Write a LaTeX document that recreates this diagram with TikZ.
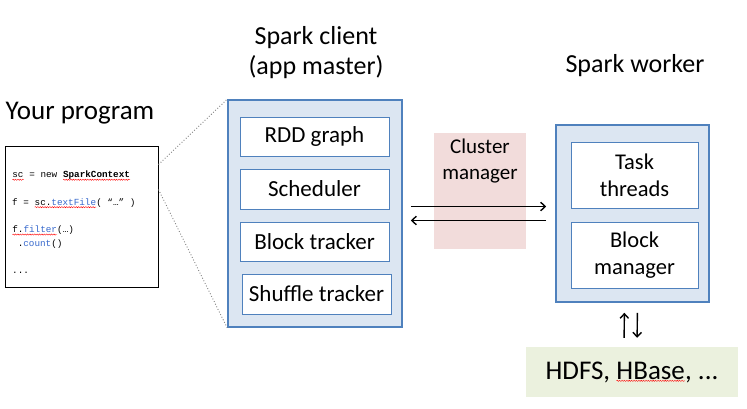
\documentclass[tikz,border=0pt]{standalone}
\usepackage{fontspec}
\setmainfont{Carlito}
\setmonofont{Liberation Mono}
\usepackage{xcolor}
\usetikzlibrary{arrows.meta, positioning, decorations.pathmorphing}
\definecolor{sparkblue}{RGB}{79,129,189}
\definecolor{sparklight}{RGB}{220,230,242}
\definecolor{clusterpink}{RGB}{242,220,219}
\definecolor{storegreen}{RGB}{235,241,222}
\definecolor{codeblue}{RGB}{55,105,205}
\newcommand{\squig}[1]{\tikz[baseline=(w.base)]{\node[inner sep=0pt, outer sep=0pt, draw=none, fill=none,
    minimum width=0pt, minimum height=0pt] (w) {#1};
  \draw[red, line width=0.4pt, decorate, decoration={snake, amplitude=0.6pt, segment length=2.4pt}]
    ([yshift=-1.8pt]w.base west) -- ([yshift=-1.8pt]w.base east);}}
\tikzset{
  outer/.style   = {draw=sparkblue, line width=1.6pt, fill=sparklight},
  part/.style    = {draw=sparkblue, fill=white, align=center, font=\fontsize{23}{26}\selectfont},
  title/.style   = {align=center, font=\fontsize{26}{30}\selectfont},
  codebox/.style = {draw=black, line width=1pt, fill=white},
  link/.style    = {->, >={Straight Barb[length=4.5pt, width=8.5pt]}, line width=1.4pt},
  zoomline/.style= {draw=gray, dotted, line width=0.9pt},
}

\begin{document}
\begin{tikzpicture}[x=1pt, y=-1pt]
\useasboundingbox (0,0) rectangle (747,408);

% your program
\node[title, font=\fontsize{27}{30}\selectfont] (prog) at (80,113) {Your program};
\node[codebox, minimum width=153pt, minimum height=141pt] (code) at (81.5,216.5) {};
\node[anchor=north west, align=left, inner sep=0pt,
      font=\ttfamily\fontsize{9.3}{13.7}\selectfont] (snippet) at (12,171) {%
\squig{sc} = new \textbf{\squig{SparkContext}}\\[13.7pt]
f = \squig{sc.\textcolor{codeblue}{textFile}}( “…” )\\[13.7pt]
\squig{f.\textcolor{codeblue}{filter}}(…)\\
\ .\textcolor{codeblue}{count}()\\[13.7pt]
...};

% spark client
\node[title] (clienttitle) at (316,53) {Spark client\\(app master)};
\node[outer, minimum width=174pt, minimum height=227pt] (client) at (315,213.5) {};
\node[part, minimum width=149pt, minimum height=39pt] (rdd) at (314.5,136.5) {RDD graph};
\node[part, minimum width=149pt, minimum height=40pt] (sched) at (314.5,189) {Scheduler};
\node[part, minimum width=149pt, minimum height=39pt] (blocktr) at (314.5,241.5) {Block tracker};
\node[part, minimum width=149pt, minimum height=40pt] (shuffle) at (316.5,294) {Shuffle tracker};

\draw[zoomline] ([yshift=-19pt]code.north east) -- (client.north west);
\draw[zoomline] ([yshift=-44pt]code.north east) -- (client.south west);

% cluster manager
\node[fill=clusterpink, minimum width=92pt, minimum height=116pt] (cm) at (480,191) {};
\node[title, font=\fontsize{21}{26}\selectfont] (cmlabel) at (480,161) {Cluster\\manager};

% spark worker
\node[title] (workertitle) at (635,66) {Spark worker};
\node[outer, minimum width=153pt, minimum height=177pt] (worker) at (632.5,213.5) {};
\node[part, font=\fontsize{22.5}{27}\selectfont, minimum width=127pt, minimum height=66pt] (task) at (634.5,175) {Task\\threads};
\node[part, font=\fontsize{22.5}{27}\selectfont, minimum width=127pt, minimum height=66pt] (blockmgr) at (634.5,255.5) {Block\\manager};

\draw[link, shorten <=8pt, shorten >=9pt] ([yshift=7pt]client.east) -- ([yshift=7pt]worker.west);
\draw[link, shorten <=9pt, shorten >=8pt] ([yshift=-7pt]worker.west) -- ([yshift=-7pt]client.east);

% storage
\node[fill=storegreen, minimum width=212pt, minimum height=50pt,
      font=\fontsize{27}{30}\selectfont] (store) at (632,372) {HDFS, \squig{HBase}, ...};
\draw[link, shorten <=9pt, shorten >=10pt] ([xshift=-8pt]store.north) -- ([xshift=-8pt]worker.south);
\draw[link, shorten <=10pt, shorten >=9pt] ([xshift=5pt]worker.south) -- ([xshift=5pt]store.north);
\end{tikzpicture}
\end{document}
